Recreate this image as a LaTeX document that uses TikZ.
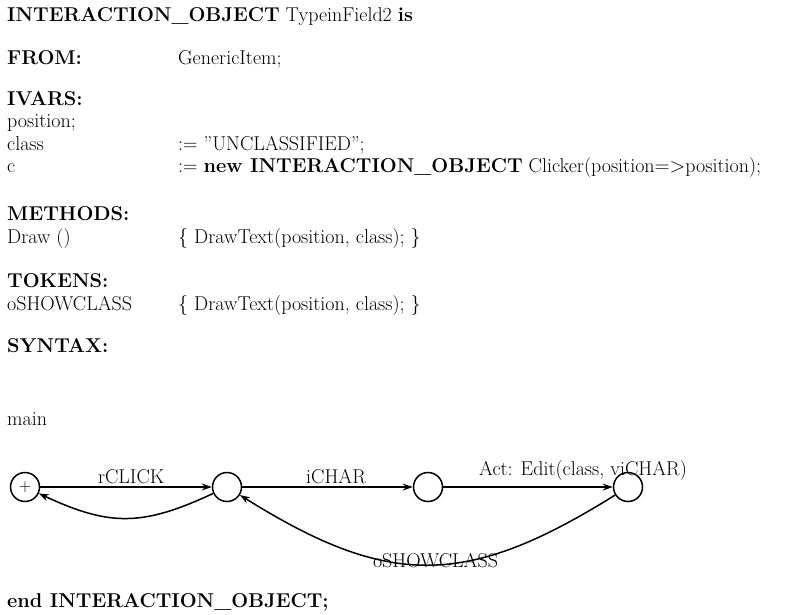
\documentclass[tikz,border=0pt]{standalone}
\usetikzlibrary{arrows.meta}
\begin{document}
\begin{tikzpicture}[x=1pt,y=-1pt,
  every node/.style={font=\fontsize{20}{24}\selectfont},
  txt/.style={anchor=base west,inner sep=0pt},
  head/.style={txt,font=\fontsize{20}{24}\selectfont\bfseries},
  state/.style={draw,circle,line width=1.5pt,minimum size=29pt,inner sep=0pt},
  arr/.style={line width=1.5pt,-{Stealth[length=10pt,width=7pt]}},
  lbl/.style={inner sep=0pt,anchor=base}]
\useasboundingbox (0,0) rectangle (803,615);

% declaration header
\node[txt] (title) at (7,22) {\textbf{INTERACTION\_OBJECT} TypeinField2 \textbf{is}};
\node[head] (from) at (7,65) {FROM:};
\node[txt] (fromv) at (178,65) {GenericItem;};

% instance variables
\node[head] (ivars) at (7,106) {IVARS:};
\node[txt] (iv1) at (7,128) {position;};
\node[txt] (iv2) at (7,150) {class};
\node[txt] (iv2v) at (178,150) {:= "UNCLASSIFIED";};
\node[txt] (iv3) at (7,172) {c};
\node[txt] (iv3v) at (178,172) {:= \textbf{new INTERACTION\_OBJECT} Clicker(position$=$$>$position);};

% methods and tokens
\node[head] (meth) at (7,220) {METHODS:};
\node[txt] (m1) at (7,243) {Draw ()};
\node[txt] (m1v) at (178,243) {\{ DrawText(position, class); \}};
\node[head] (tok) at (7,287) {TOKENS:};
\node[txt] (t1) at (7,310) {oSHOWCLASS};
\node[txt] (t1v) at (178,310) {\{ DrawText(position, class); \}};
\node[head] (syn) at (7,352) {SYNTAX:};

\node[txt] (main) at (7,425) {main};

% transition network
\node[state,font=\fontsize{17}{20}\selectfont] (s1) at (25,487) {$+$};
\node[state] (s2) at (227,487) {};
\node[state] (s3) at (428,487) {};
\node[state] (s4) at (628,487) {};

\draw[arr] (s1) -- node[lbl,pos=0.53,yshift=4pt] {rCLICK} (s2);
\draw[arr] (s2) to[bend left=25,looseness=1.15] (s1);
\draw[arr] (s2) -- node[lbl,pos=0.55,yshift=4pt] {iCHAR} (s3);
\draw[arr] (s3) -- node[lbl,pos=0.5,xshift=55pt,yshift=12pt] {Act: Edit(class, viCHAR)} (s4);
\draw[arr] (s4) to[bend left=32,looseness=1.2] node[lbl,pos=0.5,xshift=8pt,yshift=-3pt] {oSHOWCLASS} (s2);

\node[head] (end) at (7,607) {end INTERACTION\_OBJECT;};
\end{tikzpicture}
\end{document}
